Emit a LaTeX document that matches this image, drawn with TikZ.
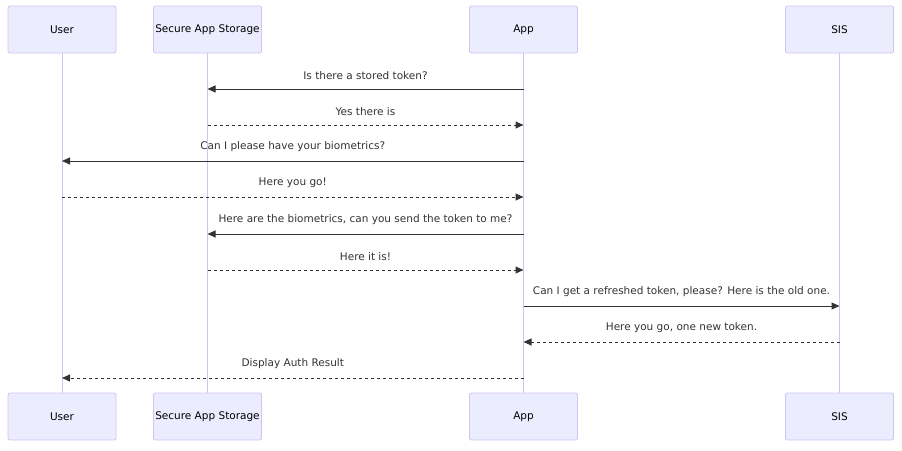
\documentclass[tikz,border=0pt]{standalone}
\usepackage{fontspec}
\setmainfont{DejaVu Sans}
\usetikzlibrary{arrows.meta}
\definecolor{actfill}{HTML}{ECECFF}
\definecolor{actdraw}{HTML}{D0C4F2}
\definecolor{msgcol}{HTML}{333333}
\begin{document}
\begin{tikzpicture}[x=1pt,y=-1pt,
  actor/.style={draw=actdraw,fill=actfill,rounded corners=2pt,minimum width=108pt,minimum height=47pt,inner sep=0pt,font=\fontsize{10.5pt}{12pt}\selectfont,line width=0.8pt},
  life/.style={draw=actdraw,line width=1pt},
  msg/.style={draw=msgcol,line width=1pt,-{Triangle[length=8pt,width=7pt]}},
  reply/.style={msg,dash pattern=on 3pt off 3pt},
  lbl/.style={font=\fontsize{10.5pt}{12pt}\selectfont,text=msgcol,inner sep=0pt}]
\useasboundingbox (0,0) rectangle (902,450);
\node[actor] (u1) at (62,29.5) {User};
\node[actor] (s1) at (207.5,29.5) {Secure App Storage};
\node[actor] (a1) at (523.5,29.5) {App};
\node[actor] (i1) at (839.5,29.5) {SIS};
\node[actor] (u2) at (62,416.5) {User};
\node[actor] (s2) at (207.5,416.5) {Secure App Storage};
\node[actor] (a2) at (523.5,416.5) {App};
\node[actor] (i2) at (839.5,416.5) {SIS};
\draw[life] (u1.south) -- (u2.north);
\draw[life] (s1.south) -- (s2.north);
\draw[life] (a1.south) -- (a2.north);
\draw[life] (i1.south) -- (i2.north);
% message coordinates
\foreach \n/\y in {1/89,2/125,3/161,4/197,5/234,6/270,7/306,8/342,9/378}{
  \coordinate (u\n) at (62,\y);
  \coordinate (s\n) at (207.5,\y);
  \coordinate (a\n) at (523.5,\y);
  \coordinate (i\n) at (839.5,\y);
}
\draw[msg] (a1) -- (s1) node[lbl,midway,above=9pt] {Is there a stored token?};
\draw[reply] (s2) -- (a2) node[lbl,midway,above=9pt] {Yes there is};
\draw[msg] (a3) -- (u3) node[lbl,midway,above=9pt] {Can I please have your biometrics?};
\draw[reply] (u4) -- (a4) node[lbl,midway,above=9pt] {Here you go!};
\draw[msg] (a5) -- (s5) node[lbl,midway,above=9pt] {Here are the biometrics, can you send the token to me?};
\draw[reply] (s6) -- (a6) node[lbl,midway,above=9pt] {Here it is!};
\draw[msg] (a7) -- (i7) node[lbl,midway,above=9pt] {Can I get a refreshed token, please? Here is the old one.};
\draw[reply] (i8) -- (a8) node[lbl,midway,above=9pt] {Here you go, one new token.};
\draw[reply] (a9) -- (u9) node[lbl,midway,above=9pt] {Display Auth Result};
\end{tikzpicture}
\end{document}
